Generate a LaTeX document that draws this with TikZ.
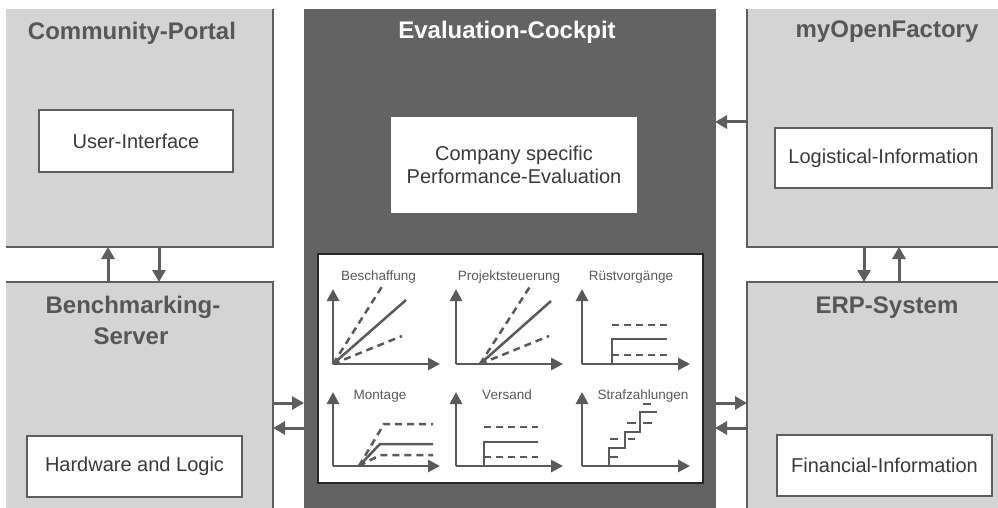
\documentclass[tikz,border=0pt]{standalone}
\usepackage{fontspec}
\setmainfont{Liberation Sans}
\usetikzlibrary{arrows.meta}
\definecolor{lgray}{HTML}{D4D4D4}
\definecolor{dgray}{HTML}{636363}
\definecolor{edge}{HTML}{5E5E5E}
\definecolor{ttl}{HTML}{575757}
\definecolor{txt}{HTML}{3A3A3A}
\definecolor{ax}{HTML}{5A5A5A}
\begin{document}
\begin{tikzpicture}[x=1pt,y=-1pt,
  outerbox/.style={draw=edge, line width=2.5pt, fill=lgray, inner sep=0pt, outer sep=0pt, anchor=north west},
  darkbox/.style={fill=dgray, draw=dgray, line width=0.5pt, inner sep=0pt, outer sep=0pt, anchor=north west},
  innerbox/.style={draw=edge, line width=2.5pt, fill=white, inner sep=0pt, outer sep=0pt, text=txt,
    font=\fontsize{20}{23}\selectfont, align=center},
  ttlstyle/.style={font=\fontsize{24}{30}\selectfont\bfseries, text=ttl, inner sep=0pt, anchor=base},
  lbl/.style={font=\fontsize{13.5}{16}\selectfont, text=ax, inner sep=0pt, anchor=base},
  conn/.style={draw=edge, line width=3pt, -{Triangle[length=12pt,width=13pt]}},
  axis/.style={draw=ax, line width=2.8pt, -{Triangle[length=12pt,width=12pt]}},
  solidln/.style={draw=ax, line width=2.5pt},
  dashln/.style={draw=ax, line width=2.5pt, dash pattern=on 7pt off 5pt},
  shortdash/.style={draw=ax, line width=2.5pt}
]
\useasboundingbox (0,0) rectangle (998,508);
\fill[white] (0,0) rectangle (998,508);
\begin{scope}
\clip (6,10) rectangle (998,508);
% outer boxes
\node[outerbox, minimum width=283pt, minimum height=257pt] (cp) at (-10,-10) {};
\node[outerbox, minimum width=283pt, minimum height=240pt] (bs) at (-10,282) {};
\node[darkbox, minimum width=411pt, minimum height=530pt] (ec) at (304,-10) {};
\node[outerbox, minimum width=270pt, minimum height=257pt] (mof) at (747,-10) {};
\node[outerbox, minimum width=270pt, minimum height=240pt] (erp) at (747,282) {};
\end{scope}

% titles
\node[ttlstyle] (tcp) at (132,40) {Community-Portal};
\node[ttlstyle] (tbs1) at (133,313) {Benchmarking-};
\node[ttlstyle] (tbs2) at (131,344) {Server};
\node[ttlstyle, text=white] (tec) at (507,39) {Evaluation-Cockpit};
\node[ttlstyle] (tmof) at (887,38) {myOpenFactory};
\node[ttlstyle] (terp) at (887,313) {ERP-System};

% inner boxes
\node[innerbox, minimum width=194pt, minimum height=62pt] (ui) at (136,141) {User-Interface};
\node[innerbox, minimum width=215pt, minimum height=61pt] (hl) at (134.5,466.5) {Hardware and Logic};
\node[innerbox, minimum width=217pt, minimum height=60pt] (li) at (883.5,158) {Logistical-Information};
\node[innerbox, minimum width=215pt, minimum height=61pt] (fi) at (884.5,465.5) {Financial-Information};
\node[innerbox, draw=none, minimum width=246pt, minimum height=96pt] (cs) at (514,165) {Company specific\\Performance-Evaluation};
\node[draw=black!85, line width=2pt, fill=white, minimum width=385pt, minimum height=229pt, inner sep=0pt, outer sep=0pt] (panel) at (510.5,368.5) {};

% connectors
\coordinate (x1) at (108,0);
\coordinate (x2) at (159,0);
\coordinate (x3) at (864,0);
\coordinate (x4) at (899,0);
\coordinate (y1) at (0,403);
\coordinate (y2) at (0,428);
\coordinate (y3) at (0,122);
\draw[conn] (bs.north -| x1) -- (cp.south -| x1);
\draw[conn] (cp.south -| x2) -- (bs.north -| x2);
\draw[conn] (bs.east |- y1) -- (ec.west |- y1);
\draw[conn] (ec.west |- y2) -- (bs.east |- y2);
\draw[conn] (mof.west |- y3) -- (ec.east |- y3);
\draw[conn] (mof.south -| x3) -- (erp.north -| x3);
\draw[conn] (erp.north -| x4) -- (mof.south -| x4);
\draw[conn] (ec.east |- y1) -- (erp.west |- y1);
\draw[conn] (erp.west |- y2) -- (ec.east |- y2);

% chart labels
\node[lbl] (l1) at (378.5,280) {Beschaffung};
\node[lbl] (l2) at (509,280) {Projektsteuerung};
\node[lbl] (l3) at (631,280) {Rüstvorgänge};
\node[lbl] (l4) at (380,399) {Montage};
\node[lbl] (l5) at (507,399) {Versand};
\node[lbl] (l6) at (643,399) {Strafzahlungen};

% chart 1
\begin{scope}[shift={(333,364)}]
\draw[dashln] (0,0) -- (50,-79);
\draw[dashln] (0,0) -- (69,-28);
\draw[solidln] (0,0) -- (73,-64);
\draw[axis] (0,0) -- (0,-75);
\draw[axis] (0,0) -- (107,0);
\end{scope}
% chart 2
\begin{scope}[shift={(456,364)}]
\draw[dashln] (24,0) -- (75,-79);
\draw[dashln] (24,0) -- (93,-28);
\draw[solidln] (24,0) -- (95,-63);
\draw[axis] (0,0) -- (0,-75);
\draw[axis] (0,0) -- (107,0);
\end{scope}
% chart 3
\begin{scope}[shift={(582,364)}]
\draw[dashln] (30,-39) -- (85,-39);
\draw[dashln] (30,-9) -- (85,-9);
\draw[solidln] (30,0) -- (30,-25) -- (85,-25);
\draw[axis] (0,0) -- (0,-75);
\draw[axis] (0,0) -- (108,0);
\end{scope}
% chart 4
\begin{scope}[shift={(333,466)}]
\draw[dashln] (26,0) -- (51,-42) -- (100,-42);
\draw[dashln] (26,0) -- (47,-11) -- (100,-11);
\draw[solidln] (26,0) -- (47,-22) -- (100,-22);
\draw[axis] (0,0) -- (0,-74);
\draw[axis] (0,0) -- (107,0);
\end{scope}
% chart 5
\begin{scope}[shift={(456,466)}]
\draw[dashln] (28,-39) -- (82,-39);
\draw[dashln] (28,-9) -- (82,-9);
\draw[solidln] (28,0) -- (28,-24) -- (82,-24);
\draw[axis] (0,0) -- (0,-74);
\draw[axis] (0,0) -- (107,0);
\end{scope}
% chart 6
\begin{scope}[shift={(582,466)}]
\draw[solidln] (27,0) -- (27,-18) -- (43,-18) -- (43,-34) -- (58,-34) -- (58,-54) -- (75,-54);
\draw[shortdash] (61,-62) -- (69,-62);
\draw[shortdash] (45,-43) -- (54,-43);
\draw[shortdash] (61,-43) -- (70,-43);
\draw[shortdash] (28,-27) -- (36,-27);
\draw[shortdash] (46,-27) -- (53,-27);
\draw[shortdash] (28,-9) -- (36,-9);
\draw[axis] (0,0) -- (0,-74);
\draw[axis] (0,0) -- (108,0);
\end{scope}
\end{tikzpicture}
\end{document}
